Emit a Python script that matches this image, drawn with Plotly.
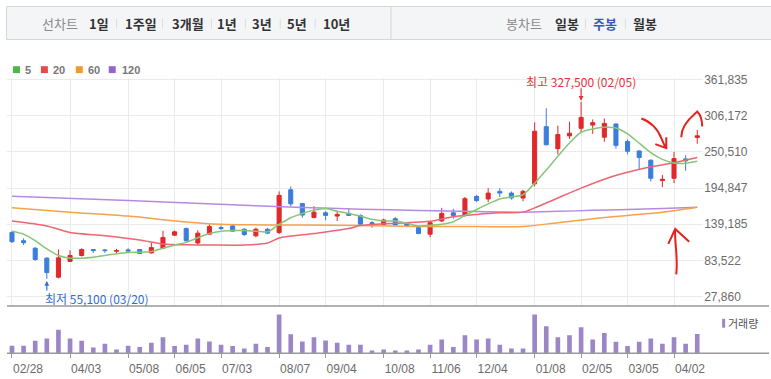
import plotly.graph_objects as go

# ---------------- data (weekly candles, index 0..59) ----------------
week_idx = list(range(60))
opens = [126500, 113800, 102200, 87000, 57700, 82000, 91100, 100200, 99700, 97600,
         99700, 100200, 95100, 102200, 122400, 132500, 110300, 123900, 134100, 136600,
         131500, 121400, 131500, 126500, 192200, 171000, 149700, 156800, 151700, 155800,
         152800, 141600, 138600, 147700, 140600, 134000, 123900, 144200, 156800, 152800,
         182100, 178000, 189700, 187100, 179500, 201300, 289300, 255400, 275100, 286800,
         291800, 273100, 293300, 266500, 251900, 237700, 206400, 209900, 239700, 272700]
highs = [128500, 117400, 104200, 88500, 100200, 99200, 102200, 100700, 101200, 101200,
         102200, 100700, 110300, 129000, 129500, 134100, 130000, 139100, 137600, 138600,
         133000, 134100, 133500, 189700, 197300, 172000, 166900, 159300, 159300, 163400,
         154300, 144200, 147700, 150200, 142000, 136600, 144200, 164400, 162900, 181100,
         184100, 194700, 194700, 189700, 192200, 295900, 317600, 290800, 296900, 327500,
         300400, 301900, 294300, 269600, 252900, 238700, 215000, 250400, 245300, 284200]
lows = [110300, 107200, 83000, 55100, 56000, 81000, 89500, 95100, 95100, 94600,
        95600, 93600, 94100, 101200, 121400, 112300, 107200, 122900, 130500, 127500,
        120900, 118900, 123900, 123900, 166900, 149200, 148200, 145200, 144200, 151700,
        137100, 133500, 137600, 136600, 134500, 123900, 118900, 142600, 147700, 150700,
        173500, 173000, 181100, 177000, 174500, 197200, 260500, 246300, 270600, 280700,
        278200, 266000, 255400, 246800, 222500, 204800, 196200, 202300, 221500, 263000]
closes = [112300, 110800, 85000, 64800, 87500, 91100, 100200, 98700, 98700, 98700,
          98100, 94100, 103200, 118900, 127500, 113800, 125500, 135600, 132500, 128500,
          123400, 131500, 125500, 183600, 170500, 153300, 157800, 152800, 154300, 152800,
          139100, 139600, 145700, 138100, 136100, 124900, 141600, 155800, 152700, 178500,
          175500, 187100, 187100, 179500, 189700, 282200, 261500, 277200, 279200, 303500,
          295400, 294300, 260500, 251400, 241800, 209900, 208400, 240200, 236700, 275200]
volumes = [23, 23, 38, 45, 72, 45, 38, 18, 29, 12, 23, 19, 32, 49, 22, 26, 45, 36, 26, 22,
           15, 29, 19, 118, 58, 36, 49, 39, 32, 26, 26, 9, 12, 9, 9, 12, 26, 42, 19, 55,
           42, 45, 26, 15, 15, 118, 82, 49, 55, 79, 42, 62, 35, 22, 35, 45, 29, 49, 29, 59]

ma5_val = [128500, 123900, 113800, 101200, 91100, 87000, 87000, 88500, 91100, 93600,
           95600, 96100, 97100, 102200, 107200, 111300, 118400, 124900, 128500, 129500,
           129500, 128500, 127500, 139100, 149200, 155800, 160900, 163400, 159300, 155800,
           151700, 146700, 144200, 144200, 140600, 136600, 137600, 139100, 143100, 152800,
           161900, 170500, 178000, 181100, 184600, 202300, 222500, 243800, 264000, 280700,
           285800, 288300, 287300, 278200, 264000, 249300, 239000, 233500, 233000, 236000]
ma20_idx = [0, 3, 5, 8, 11, 13, 15, 17, 20, 22, 23, 26, 29, 30, 33, 36, 38, 40, 42, 44,
            45, 47, 49, 51, 53, 55, 57, 59]
ma20_val = [144200, 136600, 126500, 121400, 114800, 108800, 107500, 107200, 107200, 110300,
            117900, 124900, 132500, 137100, 140600, 143600, 150700, 154300, 156800, 157800,
            164400, 179600, 194700, 208400, 219000, 227600, 233700, 241800]
ma60_idx = [0, 5, 10, 15, 18, 22, 25, 30, 35, 40, 44, 47, 50, 53, 56, 59]
ma60_val = [164400, 157800, 151700, 142600, 139100, 138100, 138100, 137100, 135600, 135600,
            135600, 141600, 147700, 152800, 157800, 165400]
ma120_idx = [0, 10, 20, 25, 30, 35, 40, 44, 47, 50, 53, 56, 59]
ma120_val = [182100, 175500, 168400, 164900, 162400, 160300, 158800, 157800, 159000, 160500,
             162000, 163500, 165400]

date_tick_idx = [0, 5, 10, 14, 18, 23, 27, 32, 36, 40, 45, 49, 53, 57]
date_tick_text = ["02/28", "04/03", "05/08", "06/05", "07/03", "08/07", "09/04",
                  "10/08", "11/06", "12/04", "01/08", "02/05", "03/05", "04/02"]
price_ticks = [27860, 83522, 139185, 194847, 250510, 306172, 361835]

high_label = "최고 327,500 (02/05)"
low_label = "최저 55,100 (03/20)"
high_idx, high_val = 49, 327500
low_idx, low_val = 3, 55100

# ---------------- style ----------------
W, H = 771, 379
RED = "#e0282a"
BLUE = "#3a7ddb"
KFONT = "Noto Sans CJK KR, Liberation Sans, sans-serif"
NFONT = "Liberation Sans, Arial, sans-serif"


def PX(x):
    return x / W


def PY(y):
    return 1 - y / H


fig = go.Figure()

fig.add_trace(go.Candlestick(
    x=week_idx, open=opens, high=highs, low=lows, close=closes,
    increasing=dict(line=dict(color=RED, width=1), fillcolor=RED),
    decreasing=dict(line=dict(color=BLUE, width=1), fillcolor=BLUE),
    whiskerwidth=0, xaxis="x", yaxis="y", showlegend=False, hoverinfo="skip"))

for xs, ys, col in [(ma120_idx, ma120_val, "#b58be2"),
                    (ma60_idx, ma60_val, "#f5a24c"),
                    (ma20_idx, ma20_val, "#ec6670"),
                    (week_idx, ma5_val, "#86c678")]:
    fig.add_trace(go.Scatter(x=xs, y=ys, mode="lines",
                             line=dict(color=col, width=1.5, shape="spline", smoothing=0.8),
                             xaxis="x", yaxis="y", showlegend=False, hoverinfo="skip"))

fig.add_trace(go.Bar(x=week_idx, y=volumes, marker_color="#9b86c8", marker_line_width=0,
                     width=0.4, xaxis="x2", yaxis="y2", showlegend=False, hoverinfo="skip"))

x_dom = [PX(7), PX(705)]
x_rng = [-0.43, 59.51]
y_main_dom = [PY(305), PY(74)]
y_vol_dom = [PY(353), PY(305)]

fig.update_layout(
    width=W, height=H, margin=dict(l=0, r=0, t=0, b=0),
    paper_bgcolor="white", plot_bgcolor="white",
    boxgap=0.5, bargap=0.6,
    xaxis=dict(domain=x_dom, range=x_rng, anchor="y", tickvals=date_tick_idx,
               showticklabels=False, showgrid=True, gridcolor="#ebebeb", gridwidth=1,
               zeroline=False, showline=False, ticks="", rangeslider=dict(visible=False),
               fixedrange=True),
    yaxis=dict(domain=y_main_dom, range=[13440, 364100], side="right", anchor="x",
               tickvals=price_ticks, ticktext=[f"{v:,}" for v in price_ticks],
               tickfont=dict(family=NFONT, size=12, color="#6b6b6b"),
               showgrid=True, gridcolor="#ebebeb", gridwidth=1, zeroline=False,
               showline=False, ticks=""),
    xaxis2=dict(domain=x_dom, range=x_rng, anchor="y2", tickvals=date_tick_idx,
                ticktext=date_tick_text, ticklabelshift=16,
                tickfont=dict(family=NFONT, size=12, color="#6b6b6b"),
                ticks="outside", ticklen=4, tickcolor="#999", tickwidth=1,
                showgrid=False, zeroline=False, showline=False),
    yaxis2=dict(domain=y_vol_dom, range=[0, 144], anchor="x2", visible=False,
                showgrid=False, zeroline=False),
)

shapes = []
# header bar
shapes.append(dict(type="rect", xref="paper", yref="paper", x0=PX(6.5), x1=PX(775),
                   y0=PY(35), y1=PY(1.5), fillcolor="#f4f5f7",
                   line=dict(color="#d3d5d9", width=1), layer="below"))
shapes.append(dict(type="line", xref="paper", yref="paper", x0=PX(392), x1=PX(392),
                   y0=PY(35), y1=PY(1.5), line=dict(color="#d3d5d9", width=1)))
for sx in [117, 163, 212, 246, 281, 316, 587, 627]:
    shapes.append(dict(type="line", xref="paper", yref="paper", x0=PX(sx), x1=PX(sx),
                       y0=PY(24), y1=PY(14), line=dict(color="#dcdcdc", width=1)))
# panel lines
for ly in [305, 353]:
    shapes.append(dict(type="line", xref="paper", yref="paper", x0=PX(7), x1=PX(771),
                       y0=PY(ly), y1=PY(ly), line=dict(color="#999", width=1.5)))
# legend squares
for lx, col in [(13, "#4db748"), (41, "#e84a4a"), (76, "#f39a2b"), (109, "#9a63c9")]:
    shapes.append(dict(type="rect", xref="paper", yref="paper", x0=PX(lx), x1=PX(lx + 7),
                       y0=PY(69), y1=PY(62), fillcolor=col, line=dict(width=0)))
# volume legend bar
shapes.append(dict(type="rect", xref="paper", yref="paper", x0=PX(724), x1=PX(727),
                   y0=PY(327), y1=PY(318), fillcolor="#9b86c8", line=dict(width=0)))


def path(pts_cmds):
    out = []
    for c in pts_cmds:
        if isinstance(c, str):
            out.append(c)
        else:
            out.append(f"{PX(c[0]):.5f},{PY(c[1]):.5f}")
    return " ".join(out)


HAND = "#e3231f"
hand_paths = [
    ["M", (643, 115), "C", (652, 118), (660, 126), (663, 135), "L", (667, 144),
     "M", (657, 141), "L", (668, 145), "L", (668, 134)],
    ["M", (683, 134), "C", (683, 124), (690, 116), (697, 110), "L", (699, 108),
     "C", (702, 111), (704, 116), (704, 123)],
    ["M", (678, 273), "C", (680, 255), (676, 240), (677, 227),
     "M", (670, 242), "L", (677, 227), "L", (691, 240)],
]
for hp in hand_paths:
    shapes.append(dict(type="path", xref="paper", yref="paper", path=path(hp),
                       line=dict(color=HAND, width=2)))

fig.update_layout(shapes=shapes)

ann = []
# header texts
for cx, txt, col, bold in [(60, "선차트", "#8a8a8a", False), (99, "1일", "#333", True),
                           (141, "1주일", "#333", True), (188, "3개월", "#333", True),
                           (228, "1년", "#333", True), (263, "3년", "#333", True),
                           (298, "5년", "#333", True), (337, "10년", "#333", True),
                           (525, "봉차트", "#8a8a8a", False), (568, "일봉", "#333", True),
                           (607, "주봉", "#3a5bb5", True), (647, "월봉", "#333", True)]:
    ann.append(dict(xref="paper", yref="paper", x=PX(cx), y=PY(19), showarrow=False,
                    text=f"<b>{txt}</b>" if bold else txt,
                    font=dict(family=KFONT, size=13, color=col),
                    xanchor="center", yanchor="middle"))
# MA legend texts
for lx, txt in [(23, "5"), (51, "20"), (86, "60"), (120, "120")]:
    ann.append(dict(xref="paper", yref="paper", x=PX(lx), y=PY(65.5), showarrow=False,
                    text=f"<b>{txt}</b>", font=dict(family=NFONT, size=11, color="#777"),
                    xanchor="left", yanchor="middle"))
ann.append(dict(xref="paper", yref="paper", x=PX(728), y=PY(322), showarrow=False,
                text="거래량", font=dict(family=KFONT, size=11, color="#555"),
                xanchor="left", yanchor="middle"))
# high / low annotations
ann.append(dict(x=high_idx, y=high_val, xref="x", yref="y", text=high_label,
                showarrow=False, yshift=20.5, font=dict(family=KFONT, size=12, color="#e3343a"),
                xanchor="center", yanchor="middle"))
ann.append(dict(x=high_idx, y=high_val, xref="x", yref="y", text="", showarrow=True,
                ax=0, ay=-15, arrowhead=2, arrowsize=0.8, arrowwidth=1.2,
                arrowcolor="#e3343a", standoff=1))
ann.append(dict(x=low_idx, y=low_val, xref="x", yref="y", text=low_label,
                showarrow=False, yshift=-20, xshift=-4,
                font=dict(family=KFONT, size=12, color="#2f6fd1"),
                xanchor="left", yanchor="middle"))
ann.append(dict(x=low_idx, y=low_val, xref="x", yref="y", text="", showarrow=True,
                ax=0, ay=13, arrowhead=2, arrowsize=0.8, arrowwidth=1.2,
                arrowcolor="#2f6fd1", standoff=2))
fig.update_layout(annotations=ann)

fig.write_html(
    "out.html",
    config={"displayModeBar": False, "staticPlot": True},
    post_script="document.body.style.margin='0';document.body.style.padding='0';"
                "document.documentElement.style.overflow='hidden';",
)
